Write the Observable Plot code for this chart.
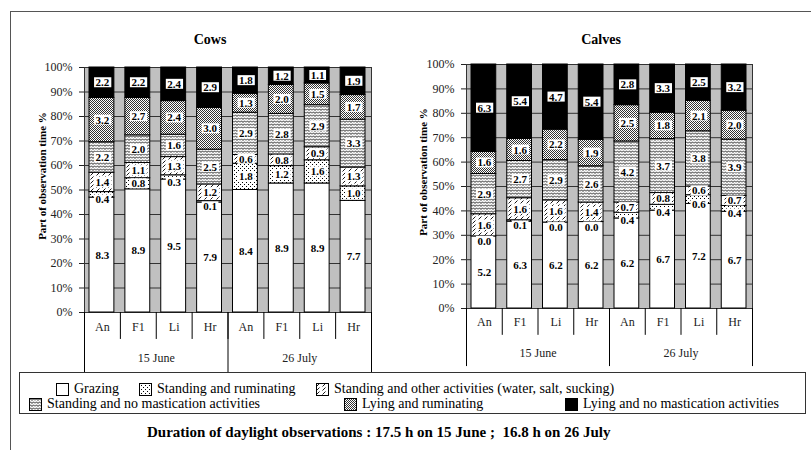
<!DOCTYPE html>
<html><head><meta charset="utf-8">
<script src="https://cdn.jsdelivr.net/npm/d3@7"></script>
<script src="https://cdn.jsdelivr.net/npm/@observablehq/plot@0.6"></script>
<style>
body{margin:0;background:#fff;font-family:"Liberation Serif","Times New Roman",serif;color:#000;}
#root{position:relative;width:811px;height:450px;overflow:hidden;}
#frame{position:absolute;left:10px;top:11px;width:830px;height:470px;border:1px solid #555;box-sizing:border-box;}
.abs{position:absolute;}
.title{position:absolute;font-weight:bold;font-size:14px;transform:translate(-50%,-50%);white-space:nowrap;}
.ylab{position:absolute;font-weight:bold;font-size:11px;transform:translate(-50%,-50%) rotate(-90deg);white-space:nowrap;}
#legend{position:absolute;left:19px;top:372px;width:787px;height:42px;border:1px solid #333;box-sizing:border-box;}
.li{position:absolute;font-size:14px;white-space:nowrap;display:flex;align-items:center;transform:translateY(-50%);}
.li svg{margin-right:5px;}
#foot{position:absolute;left:147px;top:432px;transform:translateY(-50%);font-weight:bold;font-size:15px;white-space:pre;}
</style></head><body>
<div id="root">
<svg width="0" height="0" style="position:absolute">
 <defs>
  <pattern id="pWhite" patternUnits="userSpaceOnUse" width="4" height="4"><rect width="4" height="4" fill="#fff"/></pattern>
  <pattern id="pDots" patternUnits="userSpaceOnUse" width="4" height="4"><rect width="4" height="4" fill="#fff"/><rect x="0" y="0" width="1" height="1" fill="#000"/><rect x="2" y="2" width="1" height="1" fill="#000"/></pattern>
  <pattern id="pHatch" patternUnits="userSpaceOnUse" width="6" height="4"><rect width="6" height="4" fill="#fff"/><path d="M0.5,3.5 L3.5,0.5" stroke="#000" stroke-width="0.9"/></pattern>
  <pattern id="pWave" patternUnits="userSpaceOnUse" width="6" height="3"><rect width="6" height="3" fill="#fff"/><path d="M0,2.5 L1.5,0.8 L3,2.5 L4.5,0.8 L6,2.5" stroke="#000" stroke-width="0.8" fill="none"/></pattern>
  <pattern id="pStipple" patternUnits="userSpaceOnUse" width="2" height="2"><rect width="2" height="2" fill="#fff"/><rect x="0" y="0" width="1" height="1" fill="#333"/><rect x="1" y="1" width="1" height="1" fill="#333"/></pattern>
  <pattern id="pBlack" patternUnits="userSpaceOnUse" width="4" height="4"><rect width="4" height="4" fill="#000"/></pattern>
 </defs>
</svg>
<div id="frame"></div>
<div class="title" style="left:210px;top:40px">Cows</div>
<div class="title" style="left:601px;top:40px">Calves</div>
<div class="ylab" style="left:42px;top:176px">Part of observation time %</div>
<div class="ylab" style="left:423px;top:172px">Part of observation time %</div>
<div id="cows" class="abs" style="left:0;top:0"></div>
<div id="calves" class="abs" style="left:382px;top:0"></div>
<div id="legend"></div>
<div id="foot">Duration of daylight observations : 17.5 h on 15 June ;  16.8 h on 26 July</div>
</div>
<script>
// ---- data ----
const dates = ["15 June", "26 July"];
const breeds = ["An", "F1", "Li", "Hr"];
const activities = [
  "Grazing",
  "Standing and ruminating",
  "Standing and other activities (water, salt, sucking)",
  "Standing and no mastication activities",
  "Lying and ruminating",
  "Lying and no mastication activities"
];
const patternFills = ["url(#pWhite)", "url(#pDots)", "url(#pHatch)", "url(#pWave)", "url(#pStipple)", "url(#pBlack)"];
const yTicks = [0, 0.1, 0.2, 0.3, 0.4, 0.5, 0.6, 0.7, 0.8, 0.9, 1];

// hours, order: 15 June An,F1,Li,Hr ; 26 July An,F1,Li,Hr
const cowsGrazing      = [8.3, 8.9, 9.5, 7.9, 8.4, 8.9, 8.9, 7.7];
const cowsStandRum     = [0.4, 0.8, 0.3, 0.1, 1.8, 1.2, 1.6, 1.0];
const cowsStandOther   = [1.4, 1.1, 1.3, 1.2, 0.6, 0.8, 0.9, 1.3];
const cowsStandNoMast  = [2.2, 2.0, 1.6, 2.5, 2.9, 2.8, 2.9, 3.3];
const cowsLyingRum     = [3.2, 2.7, 2.4, 3.0, 1.3, 2.0, 1.5, 1.7];
const cowsLyingNoMast  = [2.2, 2.2, 2.4, 2.9, 1.8, 1.2, 1.1, 1.9];

const calvesGrazing     = [5.2, 6.3, 6.2, 6.2, 6.2, 6.7, 7.2, 6.7];
const calvesStandRum    = [0.0, 0.1, 0.0, 0.0, 0.4, 0.4, 0.6, 0.4];
const calvesStandOther  = [1.6, 1.6, 1.6, 1.4, 0.7, 0.8, 0.6, 0.7];
const calvesStandNoMast = [2.9, 2.7, 2.9, 2.6, 4.2, 3.7, 3.8, 3.9];
const calvesLyingRum    = [1.6, 1.6, 2.2, 1.9, 2.5, 1.8, 2.1, 2.0];
const calvesLyingNoMast = [6.3, 5.4, 4.7, 5.4, 2.8, 3.3, 2.5, 3.2];

// ---- derived ----
const groups = [];
dates.forEach((dt, di) => breeds.forEach((b, bi) => groups.push({i: di * breeds.length + bi, date: dt, breed: b})));
const bounds = d3.range(groups.length + 1);
const dateBounds = d3.range(dates.length + 1).map(k => k * breeds.length);

function build(series) {
  const rows = [];
  groups.forEach(g => {
    const total = d3.sum(series, s => s[g.i]);
    let cum = 0;
    series.forEach((s, k) => {
      const v = s[g.i];
      rows.push({i: g.i, k, activity: activities[k], value: v, y1: cum / total, y2: (cum + v) / total});
      cum += v;
    });
  });
  return rows;
}

function panel(series, o) {
  const rows = build(series);
  const low = d => d.value < 0.5 || (d.k === 1 && d.value < 0.7);
  const lab = {x: d => d.i + 0.5, y: d => (d.y1 + d.y2) / 2, text: d => d.value.toFixed(1), fontWeight: "bold", fontSize: 11, fill: "#000"};
  return Plot.plot({
    width: o.width, height: o.height,
    marginLeft: 84, marginRight: o.mr, marginTop: o.mt, marginBottom: o.mb,
    x: {domain: [0, groups.length], axis: null},
    y: {domain: [0, 1], ticks: 10, tickFormat: d3.format(".0%"), tickSize: 5, tickPadding: 7, label: null, line: true},
    color: {domain: activities, range: patternFills},
    style: {fontFamily: "Liberation Serif, Times New Roman, serif", fontSize: "12px", color: "#222", background: "transparent", overflow: "visible"},
    marks: [
      Plot.frame({fill: "#c0c0c0", stroke: "#333"}),
      Plot.ruleY(yTicks, {stroke: "#333"}),
      Plot.rect(rows, {x1: "i", x2: d => d.i + 1, y1: "y1", y2: "y2", fill: "activity", stroke: "#000", strokeWidth: 1, insetLeft: 5, insetRight: 6}),
      Plot.ruleX(bounds, {x: d => d, y1: 0, y2: -0.11, stroke: "#000"}),
      Plot.ruleX(dateBounds, {x: d => d, y1: 0, y2: o.dateLine, stroke: "#000"}),
      Plot.text(groups, {x: d => d.i + 0.5, y: -0.058, text: "breed", fontSize: 12, fill: "#222"}),
      Plot.text(dates, {x: (d, k) => k * breeds.length + breeds.length / 2, y: o.dateLab, text: d => d, fontSize: 12, fill: "#222"}),
      Plot.text(rows.filter(d => !low(d)), lab),
      Plot.text(rows.filter(low), {...lab, dy: 5})
    ]
  });
}

function boxLabels(svg) {
  svg.querySelectorAll('g[font-weight="bold"] text').forEach(t => {
    const b = t.getBBox();
    const r = document.createElementNS("http://www.w3.org/2000/svg", "rect");
    r.setAttribute("x", b.x - 1.5);
    r.setAttribute("y", b.y + 1);
    r.setAttribute("width", b.width + 3);
    r.setAttribute("height", b.height - 2);
    r.setAttribute("fill", "#fff");
    if (t.getAttribute("transform")) r.setAttribute("transform", t.getAttribute("transform"));
    t.parentNode.insertBefore(r, t);
  });
}

const cowsSvg = panel([cowsGrazing, cowsStandRum, cowsStandOther, cowsStandNoMast, cowsLyingRum, cowsLyingNoMast],
  {width: 400, height: 380, mr: 29, mt: 67, mb: 68, dateLine: -0.245, dateLab: -0.188});
document.getElementById("cows").append(cowsSvg);
boxLabels(cowsSvg);

const calvesSvg = panel([calvesGrazing, calvesStandRum, calvesStandOther, calvesStandNoMast, calvesLyingRum, calvesLyingNoMast],
  {width: 400, height: 376, mr: 30, mt: 64, mb: 68, dateLine: -0.238, dateLab: -0.182});
document.getElementById("calves").append(calvesSvg);
boxLabels(calvesSvg);

// ---- legend ----
const legendPos = [
  {x: 55, y: 16}, {x: 138, y: 16}, {x: 315, y: 16},
  {x: 28, y: 31}, {x: 343, y: 31}, {x: 564, y: 31}
];
const leg = document.getElementById("legend");
activities.forEach((a, k) => {
  const d = document.createElement("div");
  d.className = "li";
  d.style.left = (legendPos[k].x - 19) + "px";
  d.style.top = legendPos[k].y + "px";
  d.innerHTML = `<svg width="13" height="13"><rect x="0.5" y="0.5" width="12" height="12" fill="${patternFills[k]}" stroke="#000"/></svg><span>${a}</span>`;
  leg.append(d);
});
</script>
</body></html>
